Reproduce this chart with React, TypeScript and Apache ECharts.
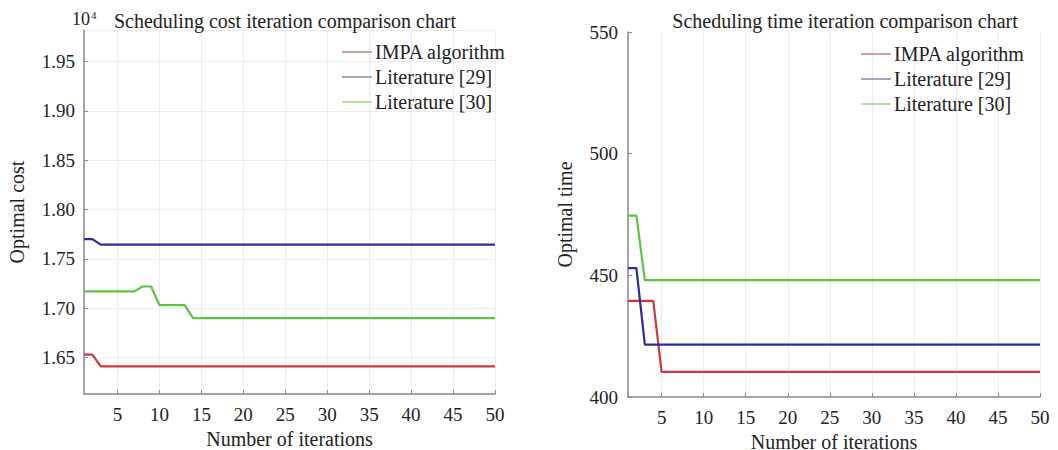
import React, { useEffect, useRef } from "react";
import * as echarts from "echarts";

// Breakpoints [iteration, value] (values constant between breakpoints)
const costIMPA = [[1, 16530], [2, 16530], [3, 16410], [50, 16410]];
const costLit29 = [[1, 17700], [2, 17700], [3, 17645], [50, 17645]];
const costLit30 = [[1, 17170], [7, 17170], [8, 17220], [9, 17220], [10, 17030], [13, 17030], [14, 16900], [50, 16900]];

const timeIMPA = [[1, 439.5], [4, 439.5], [5, 410.3], [50, 410.3]];
const timeLit29 = [[1, 453], [2, 453], [3, 421.5], [50, 421.5]];
const timeLit30 = [[1, 474.5], [2, 474.5], [3, 448], [50, 448]];

const seriesNames = ["IMPA algorithm", "Literature [29]", "Literature [30]"];
const lineColors = ["#d0383a", "#2c2c9e", "#5cc443"];
const legendColors = ["#d4a0a0", "#a4a4c4", "#b4e0a4"];

const titles = ["Scheduling cost iteration comparison chart", "Scheduling time iteration comparison chart"];
const yNames = ["Optimal cost", "Optimal time"];
const xName = "Number of iterations";

const FONT = "Liberation Serif";
const TXT = "#222";

export default function App() {
  const ref = useRef<HTMLDivElement>(null);
  useEffect(() => {
    const chart = echarts.init(ref.current!, null, { renderer: "svg", width: 1058, height: 450 });
    const axisLabel = { fontFamily: FONT, fontSize: 19, color: TXT };
    const splitLine = { show: true, lineStyle: { color: "#ececec", width: 1 } };
    const axisLine = { show: true, lineStyle: { color: "#8a8a8a", width: 1.5 } };
    const axisTick = { show: true, inside: true, length: 4, lineStyle: { color: "#8a8a8a" } };
    const nameStyle = { fontFamily: FONT, fontSize: 20, color: TXT };

    const mkX = (gridIndex: number, nameGap: number) => ({
      type: "value",
      gridIndex,
      min: 1,
      max: 50,
      splitNumber: 10,
      axisLine,
      axisTick,
      splitLine,
      axisLabel: { ...axisLabel, margin: 11, showMinLabel: false },
      name: xName,
      nameLocation: "middle",
      nameGap,
      nameTextStyle: nameStyle,
    });

    const mkSeries = (data: number[][], i: number, idx: number) => ({
      type: "line",
      name: seriesNames[i],
      data,
      xAxisIndex: idx,
      yAxisIndex: idx,
      showSymbol: false,
      symbol: "none",
      lineStyle: { color: lineColors[i], width: 2.2 },
      itemStyle: { color: lineColors[i] },
    });

    const legendData = seriesNames.map((n, i) => ({ name: n, itemStyle: { color: legendColors[i] } }));
    const mkLegend = (left: number, top: number) => ({
      orient: "vertical",
      left,
      top,
      padding: 0,
      icon: "rect",
      itemWidth: 30,
      itemHeight: 2,
      itemGap: 5,
      data: legendData,
      textStyle: { fontFamily: FONT, fontSize: 20, lineHeight: 20, color: TXT, padding: [0, 0, 0, -2] },
      selectedMode: false,
    });

    const titleStyle = { fontFamily: FONT, fontSize: 20, fontWeight: "normal", color: TXT };

    chart.setOption({
      animation: false,
      backgroundColor: "#ffffff",
      title: [
        { text: titles[0], left: 280, top: 6, textAlign: "center", textStyle: titleStyle },
        { text: titles[1], left: 840, top: 6, textAlign: "center", textStyle: titleStyle },
      ],
      legend: [mkLegend(342, 42), mkLegend(861, 44)],
      grid: [
        { left: 84, right: 563, top: 30, bottom: 56, containLabel: false, outerBoundsMode: "none" },
        { left: 628, right: 18, top: 32, bottom: 53, containLabel: false, outerBoundsMode: "none" },
      ],
      xAxis: [mkX(0, 33), mkX(1, 30)],
      yAxis: [
        {
          type: "value",
          gridIndex: 0,
          min: 16130,
          max: 19820,
          splitNumber: 7,
          axisLine,
          axisTick,
          splitLine,
          axisLabel: { ...axisLabel, margin: 9, showMinLabel: false, showMaxLabel: false, formatter: (v: number) => (v / 10000).toFixed(2) },
          name: yNames[0],
          nameLocation: "middle",
          nameGap: 57,
          nameTextStyle: nameStyle,
        },
        {
          type: "value",
          gridIndex: 1,
          min: 400,
          max: 550,
          interval: 50,
          axisLine,
          axisTick,
          splitLine: { show: false },
          axisLabel: { ...axisLabel, margin: 10 },
          name: yNames[1],
          nameLocation: "middle",
          nameGap: 53,
          nameTextStyle: nameStyle,
        },
      ],
      graphic: [
        {
          type: "text",
          left: 72,
          top: 9,
          style: {
            text: "10{sup|4}",
            fontFamily: FONT,
            fontSize: 18,
            fill: TXT,
            rich: { sup: { fontFamily: FONT, fontSize: 11, fill: TXT, verticalAlign: "top", padding: [0, 0, 8, 1] } },
          },
        },
      ],
      series: [
        mkSeries(costIMPA, 0, 0),
        mkSeries(costLit29, 1, 0),
        mkSeries(costLit30, 2, 0),
        mkSeries(timeIMPA, 0, 1),
        mkSeries(timeLit29, 1, 1),
        mkSeries(timeLit30, 2, 1),
      ],
    });
    return () => chart.dispose();
  }, []);
  return <div ref={ref} style={{ position: "absolute", left: 0, top: 0, width: 1058, height: 450 }} />;
}
